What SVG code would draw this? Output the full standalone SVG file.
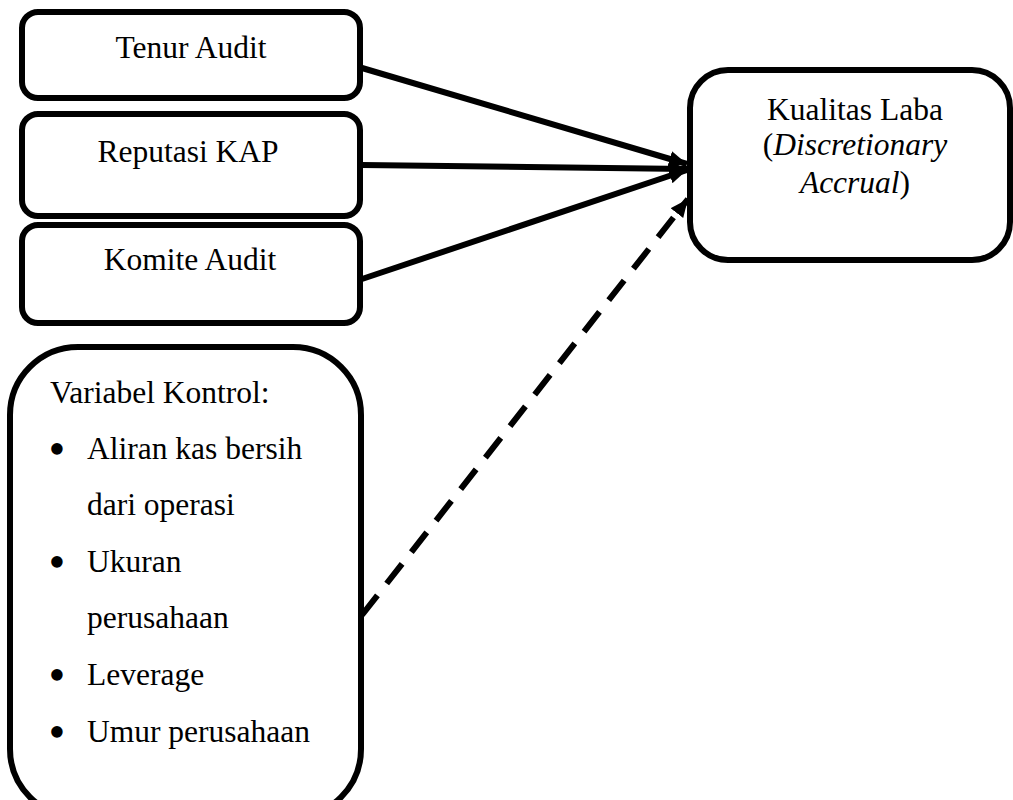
<svg xmlns="http://www.w3.org/2000/svg" width="1013" height="800" viewBox="0 0 1013 800">
<defs>
<style>
.box{fill:#fff;stroke:#000;stroke-width:6}
.t{font-family:"Liberation Serif","Times New Roman",serif;font-size:31.5px;fill:#000}
.b{font-family:"Liberation Serif","Times New Roman",serif;font-size:48px;fill:#000;text-anchor:middle}
.c{text-anchor:middle}
.ln{stroke:#000;stroke-width:6;fill:none}
.dash{stroke-dasharray:25 15}
</style>
<marker id="ah" markerUnits="userSpaceOnUse" markerWidth="22" markerHeight="18" refX="18" refY="8" orient="auto">
<path d="M0,0 L18,8 L0,16 z" fill="#000"/>
</marker>
</defs>
<rect width="1013" height="800" fill="#fff"/>
<g id="connectors">
<line class="ln" x1="362" y1="68" x2="687" y2="164" marker-end="url(#ah)"/>
<line class="ln" x1="362" y1="165" x2="687" y2="169" marker-end="url(#ah)"/>
<line class="ln" x1="362" y1="279" x2="687" y2="170" marker-end="url(#ah)"/>
<line class="ln dash" x1="362" y1="615" x2="688" y2="199" marker-end="url(#ah)"/>
</g>
<g id="tenur">
<rect class="box" x="22" y="12" width="338" height="86" rx="16"/>
<text class="t c" x="191" y="58">Tenur Audit</text>
</g>
<g id="reputasi">
<rect class="box" x="22" y="114" width="338" height="102" rx="16"/>
<text class="t c" x="188" y="162">Reputasi KAP</text>
</g>
<g id="komite">
<rect class="box" x="22" y="225" width="338" height="98" rx="16"/>
<text class="t c" x="190" y="270">Komite Audit</text>
</g>
<g id="kualitas">
<rect class="box" x="690" y="70" width="320" height="190" rx="38"/>
<text class="t c" x="855" y="120">Kualitas Laba</text>
<text class="t c" x="855" y="155">(<tspan font-style="italic">Discretionary</tspan></text>
<text class="t c" x="855" y="193"><tspan font-style="italic">Accrual</tspan>)</text>
</g>
<g id="kontrol">
<rect class="box" x="10" y="347" width="351" height="470" rx="68"/>
<text class="t" x="50" y="403">Variabel Kontrol:</text>
<g class="t">
<text class="b" x="57" y="465">•</text><text x="87" y="459">Aliran kas bersih</text>
<text x="87" y="515">dari operasi</text>
<text class="b" x="57" y="578">•</text><text x="87" y="572">Ukuran</text>
<text x="87" y="628">perusahaan</text>
<text class="b" x="57" y="691">•</text><text x="87" y="685">Leverage</text>
<text class="b" x="57" y="748">•</text><text x="87" y="742">Umur perusahaan</text>
</g>
</g>
</svg>
